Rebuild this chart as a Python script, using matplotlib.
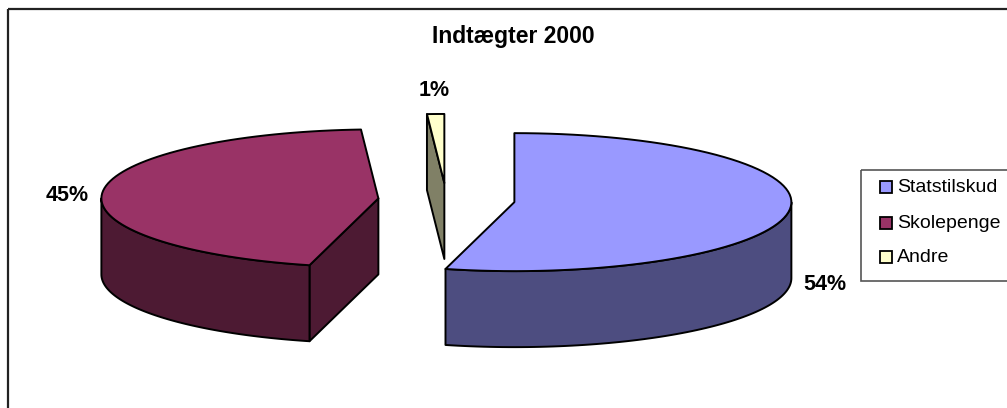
import numpy as np
import matplotlib
matplotlib.use('Agg')
import matplotlib.pyplot as plt
from matplotlib.patches import Polygon, Rectangle

plt.rcParams['font.family'] = ['Liberation Sans', 'DejaVu Sans']

# data
labels = ['Statstilskud', 'Skolepenge', 'Andre']
values = [54, 45, 1]
pct_text = ['54%', '45%', '1%']
top_colors = ['#9999FF', '#993366', '#FFFFCC']
title = 'Indtægter 2000'

# layout of the 3d pie (pixels)
cx, cy = 446.5, 200
rx, ry = 277, 69
depth = 76
explode = 0.247
label_k = 1.13
label_dy = [73, 4, -15]


def shade(c, f=0.5):
    r, g, b = matplotlib.colors.to_rgb(c)
    return (r * f, g * f, b * f)


def arc(ox, oy, a0, a1, dy=0, n=80):
    t = np.radians(np.linspace(a0, a1, n))
    return np.column_stack([ox + rx * np.cos(t), oy - ry * np.sin(t) + dy])


fig = plt.figure(figsize=(10.07, 4.08), dpi=100)
ax = fig.add_axes([0, 0, 1, 1])
ax.set_xlim(0, 1007)
ax.set_ylim(408, 0)
ax.axis('off')

# chart frame
ax.add_patch(Rectangle((8, 9), 1200, 600, fill=False, ec='#222222', lw=1.6))

# slices clockwise from 12 o'clock
total = float(sum(values))
slices = []
start = 90.0
for i, v in enumerate(values):
    span = 360.0 * v / total
    a1 = start
    a0 = start - span
    start = a0
    mid = np.radians((a0 + a1) / 2)
    ox = cx + explode * rx * np.cos(mid)
    oy = cy - explode * ry * np.sin(mid)
    slices.append((i, a0, a1, ox, oy, mid))

# back slice first
order = sorted(slices, key=lambda s: s[4])
ec = 'black'
lw = 1.4
for i, a0, a1, ox, oy, mid in order:
    side = shade(top_colors[i])
    # radial cut faces
    for a, vis in ((a1, np.cos(np.radians(a1)) < -1e-6),
                   (a0, np.cos(np.radians(a0)) > 1e-6)):
        if vis:
            t = np.radians(a)
            px, py = ox + rx * np.cos(t), oy - ry * np.sin(t)
            face = [(ox, oy), (px, py), (px, py + depth), (ox, oy + depth)]
            ax.add_patch(Polygon(face, closed=True, fc=side, ec=ec, lw=lw, joinstyle='round'))
    # outer wall, front half only
    for k in range(-3, 3):
        lo, hi = max(a0, -180 + 360 * k), min(a1, 360 * k)
        if hi > lo:
            top = arc(ox, oy, lo, hi)
            bot = arc(ox, oy, lo, hi, dy=depth)[::-1]
            ax.add_patch(Polygon(np.vstack([top, bot]), closed=True, fc=side,
                                 ec=ec, lw=lw, joinstyle='round'))
    # top face
    pts = np.vstack([[ox, oy], arc(ox, oy, a0, a1)])
    ax.add_patch(Polygon(pts, closed=True, fc=top_colors[i], ec=ec, lw=lw, joinstyle='round'))
    # percent label
    lx = ox + label_k * rx * np.cos(mid)
    ly = oy - label_k * ry * np.sin(mid) + label_dy[i]
    ax.text(lx, ly, pct_text[i], ha='center', va='center', fontsize=15.5,
            fontweight='bold')

ax.text(513, 37, title, ha='center', va='center', fontsize=16.5, fontweight='bold')

# legend
ax.add_patch(Rectangle((861, 170), 300, 111, fill=False, ec='#555555', lw=1.2))
leg_y = [187, 223, 257]
for i, lab in enumerate(labels):
    ax.add_patch(Rectangle((880, leg_y[i] - 6), 12, 12, fc=top_colors[i], ec='black', lw=1.3))
    ax.text(897, leg_y[i], lab, ha='left', va='center', fontsize=14)

fig.savefig('out.png', dpi=100)
